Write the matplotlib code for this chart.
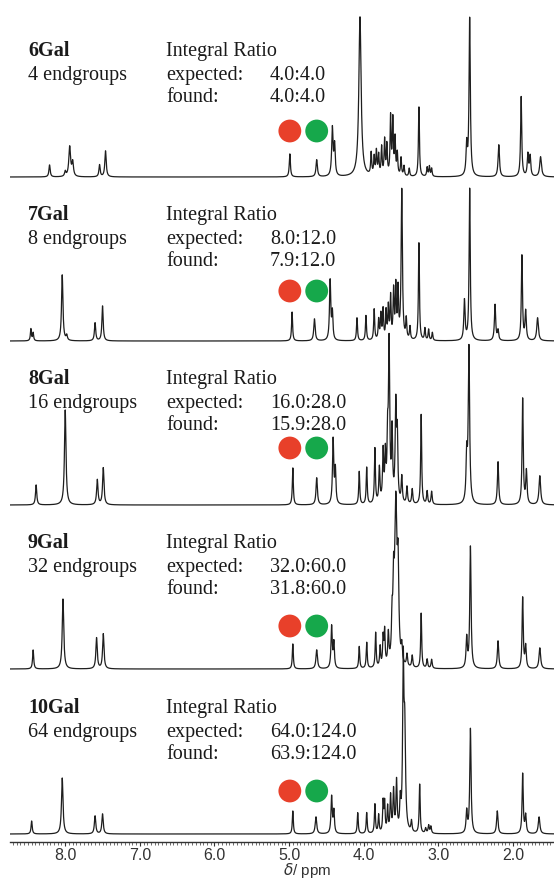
import matplotlib
matplotlib.use('Agg')
import matplotlib.pyplot as plt
import matplotlib.transforms as mtransforms
from matplotlib.ticker import MultipleLocator, FormatStrFormatter
import numpy as np

# ---------------------------------- data ---------------------------------- #

names = ['6Gal', '7Gal', '8Gal', '9Gal', '10Gal']
endgroups = ['4 endgroups', '8 endgroups', '16 endgroups', '32 endgroups', '64 endgroups']
expected = ['4.0:4.0', '8.0:12.0', '16.0:28.0', '32.0:60.0', '64.0:124.0']
found = ['4.0:4.0', '7.9:12.0', '15.9:28.0', '31.8:60.0', '63.9:124.0']

# anomeric signals marked with the red / green dots
marker_ppm = [4.99, 4.63]
marker_colors = ['#e8402a', '#16a84b']

ppm_6 = [8.21, 8.00, 7.94, 7.90, 7.54, 7.46, 4.99, 4.63, 4.42, 4.39, 4.05, 3.90, 3.86,
         3.83, 3.80, 3.76, 3.72, 3.69, 3.64, 3.61, 3.58, 3.55, 3.50, 3.46, 3.39, 3.26,
         3.15, 3.12, 3.09, 2.62, 2.58, 2.19, 1.89, 1.80, 1.77, 1.63]
height_6 = [12, 5, 30, 14, 12, 26, 23, 17, 48, 30, 160, 22, 18, 24, 20, 28, 35, 30, 58,
            55, 36, 22, 18, 10, 8, 70, 9, 10, 8, 30, 158, 32, 80, 22, 20, 20]
width_6 = [0.010, 0.010, 0.014, 0.012, 0.010, 0.011, 0.009, 0.011, 0.011, 0.010, 0.018,
           0.008, 0.008, 0.008, 0.008, 0.008, 0.008, 0.008, 0.008, 0.008, 0.008, 0.008,
           0.008, 0.008, 0.008, 0.008, 0.008, 0.008, 0.008, 0.010, 0.010, 0.011, 0.009,
           0.010, 0.010, 0.014]

ppm_7 = [8.46, 8.43, 8.04, 7.98, 7.60, 7.50, 4.96, 4.66, 4.45, 4.42, 4.09, 3.97, 3.86,
         3.80, 3.77, 3.74, 3.70, 3.67, 3.64, 3.60, 3.57, 3.54, 3.49, 3.43, 3.38, 3.26,
         3.18, 3.13, 3.08, 2.65, 2.58, 2.24, 2.20, 1.88, 1.83, 1.67]
height_7 = [12, 8, 66, 5, 18, 35, 29, 22, 60, 27, 23, 25, 31, 20, 25, 30, 28, 32, 42, 48,
            52, 48, 150, 20, 13, 98, 12, 11, 8, 40, 152, 36, 10, 85, 29, 23]
width_7 = [0.008, 0.008, 0.011, 0.010, 0.010, 0.010, 0.008, 0.011, 0.010, 0.009, 0.008,
           0.008, 0.008, 0.008, 0.008, 0.008, 0.008, 0.008, 0.008, 0.008, 0.008, 0.008,
           0.010, 0.008, 0.008, 0.008, 0.008, 0.008, 0.008, 0.010, 0.009, 0.010, 0.010,
           0.009, 0.010, 0.013]

ppm_8 = [8.39, 8.00, 7.57, 7.49, 4.95, 4.63, 4.41, 4.38, 4.06, 3.96, 3.85, 3.79, 3.74,
         3.71, 3.68, 3.66, 3.62, 3.57, 3.55, 3.49, 3.42, 3.35, 3.23, 3.15, 3.09, 2.62,
         2.59, 2.20, 1.87, 1.82, 1.64]
height_8 = [20, 95, 25, 37, 37, 27, 65, 34, 33, 37, 55, 35, 50, 45, 55, 155, 68, 95, 62,
            26, 17, 15, 90, 13, 13, 45, 156, 43, 106, 33, 29]
width_8 = [0.010, 0.012, 0.011, 0.011, 0.008, 0.011, 0.010, 0.009, 0.008, 0.008, 0.008,
           0.009, 0.009, 0.009, 0.009, 0.010, 0.009, 0.010, 0.009, 0.009, 0.009, 0.009,
           0.008, 0.009, 0.009, 0.010, 0.011, 0.010, 0.009, 0.010, 0.013]

ppm_9 = [8.43, 8.03, 7.58, 7.49, 4.95, 4.63, 4.43, 4.40, 4.06, 3.96, 3.84, 3.78, 3.74,
         3.72, 3.67, 3.62, 3.60, 3.57, 3.54, 3.49, 3.42, 3.35, 3.23, 3.15, 3.09, 2.62,
         2.57, 2.20, 1.87, 1.83, 1.64]
height_9 = [19, 70, 31, 35, 25, 19, 42, 25, 22, 26, 35, 20, 28, 34, 30, 38, 64, 158, 84,
            16, 12, 12, 55, 9, 9, 30, 122, 28, 71, 22, 21]
width_9 = [0.009, 0.012, 0.011, 0.011, 0.008, 0.012, 0.010, 0.009, 0.008, 0.008, 0.008,
           0.008, 0.008, 0.008, 0.009, 0.009, 0.010, 0.018, 0.012, 0.009, 0.009, 0.009,
           0.008, 0.009, 0.009, 0.010, 0.010, 0.011, 0.009, 0.010, 0.013]

ppm_10 = [8.45, 8.04, 7.60, 7.50, 4.95, 4.64, 4.43, 4.40, 4.08, 3.96, 3.85, 3.80, 3.74,
          3.72, 3.68, 3.64, 3.60, 3.56, 3.51, 3.47, 3.45, 3.36, 3.25, 3.17, 3.13, 3.10,
          2.62, 2.57, 2.21, 1.87, 1.83, 1.65]
height_10 = [13, 56, 18, 20, 23, 17, 37, 22, 21, 21, 29, 18, 30, 29, 25, 36, 41, 50, 28,
             160, 95, 11, 49, 5, 8, 7, 22, 105, 23, 60, 18, 17]
width_10 = [0.009, 0.012, 0.011, 0.011, 0.008, 0.012, 0.010, 0.009, 0.008, 0.008, 0.008,
            0.008, 0.008, 0.008, 0.008, 0.009, 0.009, 0.009, 0.009, 0.010, 0.012, 0.009,
            0.008, 0.009, 0.009, 0.009, 0.010, 0.010, 0.011, 0.009, 0.010, 0.013]

spectra = [(ppm_6, height_6, width_6), (ppm_7, height_7, width_7),
           (ppm_8, height_8, width_8), (ppm_9, height_9, width_9),
           (ppm_10, height_10, width_10)]

# ------------------------------- layout (px) ------------------------------ #

W, H = 554, 882
AX_H = 842
baselines = [665, 501, 337, 173, 8]        # y of each trace in axis pixel units
dot_lift = [46, 50, 57, 43, 43]

fig = plt.figure(figsize=(W / 100, H / 100), dpi=100)
ax = fig.add_axes([10 / W, (H - AX_H) / H, 544 / W, AX_H / H])
ax.set_xlim(8.74, 1.45)
ax.set_ylim(0, AX_H)

grid = np.linspace(8.74, 1.45, 6000)


def lorentz(x, centers, heights, widths):
    y = np.zeros_like(x)
    for c, h, w in zip(centers, heights, widths):
        y += h * w ** 2 / ((x - c) ** 2 + w ** 2)
    return y


blend = mtransforms.blended_transform_factory(fig.transFigure, ax.transData)
serif = 'Liberation Serif'
ink = '#1a1a1a'

for i, (p, h, w) in enumerate(spectra):
    base = baselines[i]
    ax.plot(grid, base + lorentz(grid, p, h, w), color='#1e1e1e', lw=0.9,
            solid_joinstyle='round')

    # labels
    ax.text(28 / W, base + 121, names[i], transform=blend, family=serif,
            fontweight='bold', fontsize=14.5, va='baseline', color=ink)
    ax.text(28 / W, base + 97, endgroups[i], transform=blend, family=serif,
            fontsize=14.5, va='baseline', color=ink)
    ax.text(166 / W, base + 121, 'Integral Ratio', transform=blend, family=serif,
            fontsize=14.5, va='baseline', color=ink)
    ax.text(166 / W, base + 97, 'expected:', transform=blend, family=serif,
            fontsize=14.5, va='baseline', color=ink)
    ax.text(166 / W, base + 75, 'found:', transform=blend, family=serif,
            fontsize=14.5, va='baseline', color=ink)
    ax.text(270 / W, base + 97, expected[i], transform=blend, family=serif,
            fontsize=14.5, va='baseline', color=ink)
    ax.text(270 / W, base + 75, found[i], transform=blend, family=serif,
            fontsize=14.5, va='baseline', color=ink)

    ax.scatter(marker_ppm, [base + dot_lift[i]] * len(marker_ppm), s=270,
               c=marker_colors, edgecolors='none', zorder=3)

# axis
for side in ['left', 'right', 'top']:
    ax.spines[side].set_visible(False)
ax.spines['bottom'].set_linewidth(1.0)
ax.spines['bottom'].set_color('#333333')
ax.set_yticks([])
ax.xaxis.set_major_locator(MultipleLocator(1.0))
ax.xaxis.set_minor_locator(MultipleLocator(0.05))
ax.xaxis.set_major_formatter(FormatStrFormatter('%.1f'))
ax.tick_params(axis='x', which='major', length=3, width=0.8, pad=1.5,
               labelsize=11.5, colors='#333333')
ax.tick_params(axis='x', which='minor', length=2, width=0.6, color='#555555')
for lab in ax.get_xticklabels():
    lab.set_family('Liberation Sans')

ax.set_xlabel(r'$\delta$/ ppm', fontsize=11, family='Liberation Sans',
              color='#333333')
ax.xaxis.label.set_va('center')
ax.xaxis.set_label_coords((307 - 10) / 544, -29 / AX_H)

fig.savefig('out.png', dpi=100)
